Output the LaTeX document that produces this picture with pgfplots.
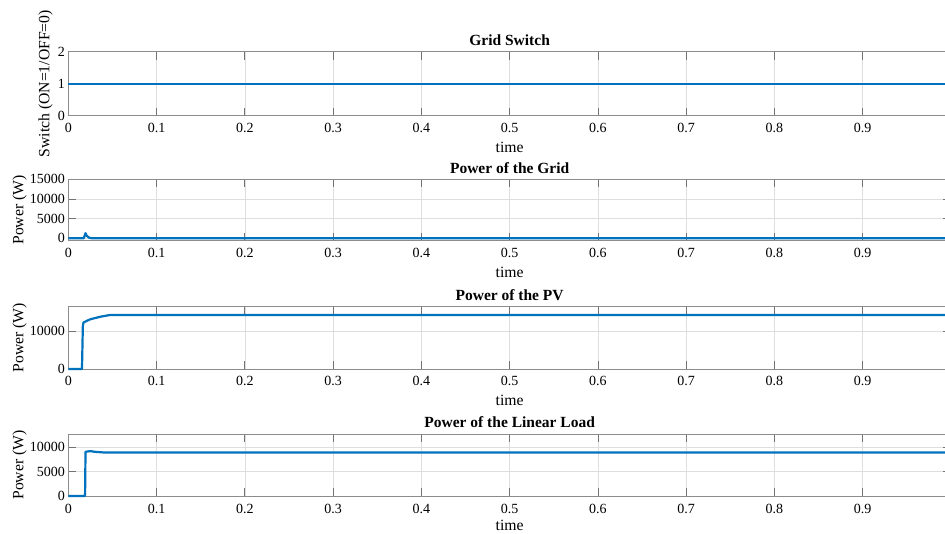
\documentclass[border=0pt]{standalone}
\usepackage{pgfplots}
\pgfplotsset{compat=1.18}
\usepackage{fontspec}
\setmainfont{Liberation Serif}
\definecolor{mblue}{RGB}{0,114,189}
\pgfplotsset{
 panel/.style={
  scale only axis, width=882.7pt, anchor=south west,
  xmin=0, xmax=1,
  xtick={0,0.1,0.2,0.3,0.4,0.5,0.6,0.7,0.8,0.9},
  grid=major, major grid style={black!13, line width=0.6pt},
  axis line style={black!45, line width=0.8pt},
  tick style={black!55, line width=0.8pt},
  major tick length=8pt, tick align=inside,
  xtick pos=both, ytick pos=both,
  xticklabel pos=lower, yticklabel pos=left,
  /pgf/number format/assume math mode=true,
  /pgf/number format/1000 sep={},
  scaled ticks=false,
  tick label style={font=\fontsize{14}{16}\selectfont},
  xticklabel style={anchor=base, yshift=-17pt},
  label style={font=\fontsize{15.7}{18}\selectfont},
  xlabel={time},
  xlabel style={at={(axis description cs:0.5,0)}, anchor=base, yshift=-37pt},
  title style={font=\bfseries\fontsize{15.5}{18}\selectfont, at={(axis description cs:0.5,1)}, anchor=base},
  clip=false,
 },
 ln/.style={mblue, no markers, line width=2.2pt, line join=round},
}
\begin{document}
\begin{tikzpicture}
\begin{axis}[panel, at={(68.3pt,417.3pt)}, height=64pt,
  ymin=0, ymax=2, ytick={0,1,2},
  title={Grid Switch}, ylabel={Switch (ON=1/OFF=0)},
  ylabel style={at={(axis description cs:-0.0258,0.5)}, anchor=center}]
\addplot[ln] coordinates {(0,1) (1,1)};
\end{axis}
\begin{axis}[panel, at={(68.3pt,292.3pt)}, height=61.4pt,
  ymin=-610, ymax=15000, ytick={0,5000,10000,15000},
  title={Power of the Grid}, ylabel={Power (W)},
  ylabel style={at={(axis description cs:-0.0553,0.5)}, anchor=center}]
\addplot[ln] coordinates {(0,0) (0.0175,0) (0.0195,1300) (0.021,600) (0.024,100) (0.027,0) (1,0)};
\end{axis}
\begin{axis}[panel, at={(68.3pt,164pt)}, height=62.3pt,
  ymin=0, ymax=16500, ytick={0,10000},
  title={Power of the PV}, ylabel={Power (W)},
  ylabel style={at={(axis description cs:-0.0553,0.5)}, anchor=center}]
\addplot[ln] coordinates {(0,0) (0.0155,0) (0.0165,11500) (0.0173,12330) (0.0246,13140) (0.036,13830) (0.047,14290) (0.06,14300) (1,14300)};
\end{axis}
\begin{axis}[panel, at={(68.3pt,37pt)}, height=62pt,
  ymin=0, ymax=12700, ytick={0,5000,10000},
  title={Power of the Linear Load}, ylabel={Power (W)},
  ylabel style={at={(axis description cs:-0.0553,0.5)}, anchor=center},
  xlabel style={yshift=2.5pt}]
\addplot[ln] coordinates {(0,0) (0.019,0) (0.0195,9050) (0.025,9200) (0.03,9050) (0.04,8920) (0.06,8900) (1,8900)};
\end{axis}
\pgfresetboundingbox
\path (0,0) rectangle (945pt,533pt);
\end{tikzpicture}
\end{document}
